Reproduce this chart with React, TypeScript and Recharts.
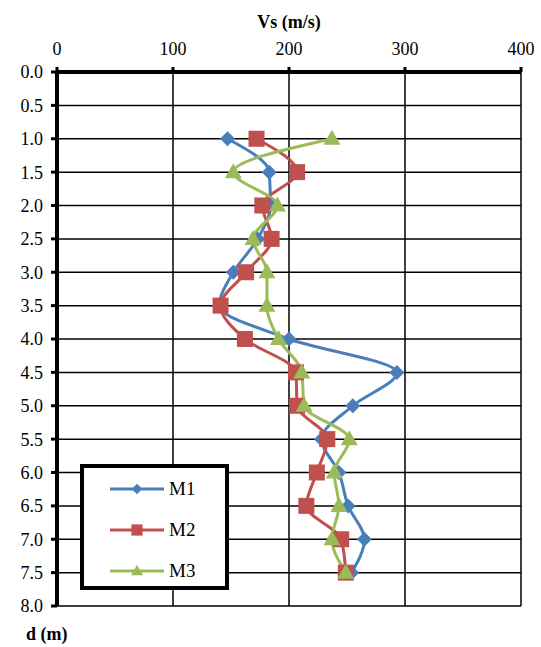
import React from 'react';
import { LineChart, Line, XAxis, YAxis, CartesianGrid, Legend } from 'recharts';

// profondeur (m) et vitesses Vs (m/s)
const depths = [1.0, 1.5, 2.0, 2.5, 3.0, 3.5, 4.0, 4.5, 5.0, 5.5, 6.0, 6.5, 7.0, 7.5];
const m1 = [147, 183, 184, 173, 152, 140, 200, 293, 255, 228, 243, 251, 265, 254];
const m2 = [172, 207, 177, 185, 163, 141, 162, 206, 207, 233, 224, 215, 245, 249];
const m3 = [237, 152, 190, 169, 181, 181, 191, 211, 213, 252, 239, 243, 237, 249];

const vsTicks = [0, 100, 200, 300, 400];
const depthTicks = [0, 0.5, 1, 1.5, 2, 2.5, 3, 3.5, 4, 4.5, 5, 5.5, 6, 6.5, 7, 7.5, 8];

const series = [
  { key: 'M1', color: '#4A7EBB', marker: 'diamond' },
  { key: 'M2', color: '#C0504D', marker: 'square' },
  { key: 'M3', color: '#9BBB59', marker: 'triangle' },
];

const data = depths.map((d, i) => ({ d, M1: m1[i], M2: m2[i], M3: m3[i] }));

const FONT = '"Liberation Serif", "Times New Roman", "DejaVu Serif", serif';

const Marker = ({ cx, cy, kind, color, s = 1 }: any) => {
  if (cx == null || cy == null) return null;
  if (kind === 'diamond') {
    const r = 7.5 * s;
    return <polygon points={`${cx},${cy - r} ${cx + r},${cy} ${cx},${cy + r} ${cx - r},${cy}`} fill={color} />;
  }
  if (kind === 'square') {
    const h = 8 * s;
    return <rect x={cx - h} y={cy - h} width={2 * h} height={2 * h} fill={color} />;
  }
  const w = 8.5 * s;
  return <polygon points={`${cx},${cy - 9 * s} ${cx + w},${cy + 6 * s} ${cx - w},${cy + 6 * s}`} fill={color} />;
};

const LegendBox = () => (
  <div style={{ width: 141, height: 118, border: '4px solid #000', background: '#fff', position: 'relative' }}>
    {series.map((s, i) => (
      <div key={s.key} style={{ position: 'absolute', left: 24, top: 10 + i * 41, display: 'flex', alignItems: 'center' }}>
        <svg width={58} height={20}>
          <line x1={2} y1={10} x2={56} y2={10} stroke={s.color} strokeWidth={3} />
          <Marker cx={29} cy={10} kind={s.marker} color={s.color} s={0.7} />
        </svg>
        <span style={{ fontFamily: FONT, fontSize: 19, marginLeft: 3 }}>{s.key}</span>
      </div>
    ))}
  </div>
);

export default function App() {
  return (
    <div style={{ position: 'absolute', left: 0, top: 0, width: 541, height: 647, background: '#fff' }}>
      <LineChart
        width={541}
        height={647}
        data={data}
        layout="vertical"
        margin={{ top: 42, right: 20, bottom: 41, left: 10 }}
      >
        <CartesianGrid stroke="#000" strokeWidth={1.5} />
        <XAxis
          type="number"
          orientation="top"
          domain={[0, 400]}
          ticks={vsTicks}
          height={30}
          axisLine={{ stroke: '#000', strokeWidth: 4 }}
          tickLine={{ stroke: '#000', strokeWidth: 3 }}
          tickSize={5}
          tickMargin={12}
          tick={{ fill: '#000', fontSize: 18, fontFamily: FONT }}
          label={{ value: 'Vs (m/s)', position: 'top', offset: 14, fill: '#000', fontSize: 18, fontWeight: 'bold', fontFamily: FONT }}
        />
        <YAxis
          type="number"
          dataKey="d"
          domain={[0, 8]}
          ticks={depthTicks}
          interval={0}
          width={47}
          axisLine={{ stroke: '#000', strokeWidth: 4 }}
          tickLine={{ stroke: '#000', strokeWidth: 3 }}
          tickSize={6}
          tickMargin={8}
          tickFormatter={(v: number) => v.toFixed(1)}
          tick={{ fill: '#000', fontSize: 18, fontFamily: FONT }}
        />
        <Legend
          layout="horizontal"
          verticalAlign="middle"
          align="center"
          wrapperStyle={{ left: 80, top: 464, width: 'auto' }}
          content={() => <LegendBox />}
        />
        {series.map((s) => (
          <Line
            key={s.key}
            type="monotone"
            dataKey={s.key}
            stroke={s.color}
            strokeWidth={3}
            dot={(p: any) => <Marker key={`${s.key}-${p.index}`} cx={p.cx} cy={p.cy} kind={s.marker} color={s.color} />}
            activeDot={false}
            isAnimationActive={false}
          />
        ))}
      </LineChart>
      <div style={{ position: 'absolute', left: 26, top: 624, fontFamily: FONT, fontSize: 18, fontWeight: 'bold' }}>d (m)</div>
    </div>
  );
}
